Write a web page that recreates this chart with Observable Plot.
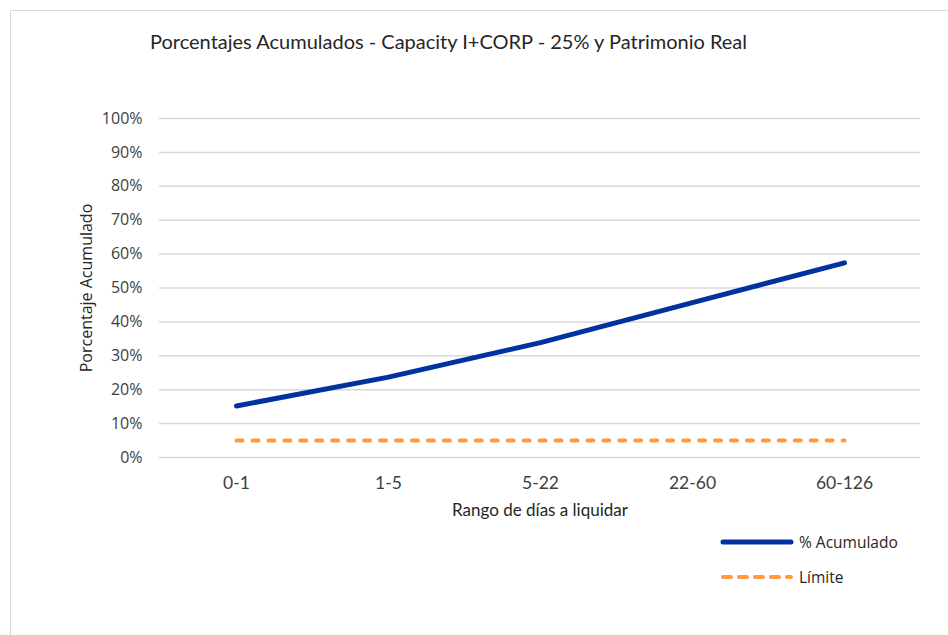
<!DOCTYPE html>
<html>
<head>
<meta charset="utf-8">
<script src="https://cdn.jsdelivr.net/npm/d3@7"></script>
<script src="https://cdn.jsdelivr.net/npm/@observablehq/plot@0.6"></script>
<style>
  html, body { margin: 0; padding: 0; background: #fff; }
  #wrap { position: relative; width: 948px; height: 635px; overflow: hidden; }
  #frame { position: absolute; left: 10px; top: 10px; width: 960px; height: 640px; border: 1px solid #d9d9d9; box-sizing: border-box; }
  #title { position: absolute; left: 150px; top: 29px; font-family: Lato, "Noto Sans", sans-serif; font-size: 20px; color: #262626; white-space: nowrap; }
  #chart { position: absolute; left: 0; top: 100px; }
  #legend { position: absolute; left: 720px; top: 530px; font-family: "Open Sans", "Noto Sans", sans-serif; font-size: 15.5px; color: #262626; }
  .item { display: flex; align-items: center; height: 24px; margin-bottom: 11px; }
  .item svg { margin-right: 5px; }
</style>
</head>
<body>
<div id="wrap">
  <div id="frame"></div>
  <div id="title">Porcentajes Acumulados - Capacity I+CORP - 25% y Patrimonio Real</div>
  <div id="chart"></div>
  <div id="legend"></div>
</div>
<script>
const categories = ["0-1", "1-5", "5-22", "22-60", "60-126"];
const acumulado = [15.2, 23.7, 33.9, 45.7, 57.4];
const limite = [5, 5, 5, 5, 5];
const yTicks = [0, 10, 20, 30, 40, 50, 60, 70, 80, 90, 100];
const seriesNames = ["% Acumulado", "Límite"];
const seriesColors = ["#0033a0", "#ff9a3c"];

const dataAc = categories.map((c, i) => ({cat: c, v: acumulado[i]}));
const dataLim = categories.map((c, i) => ({cat: c, v: limite[i]}));

const chart = Plot.plot({
  width: 948,
  height: 430,
  marginTop: 18,
  marginBottom: 73,
  marginLeft: 159,
  marginRight: 28,
  style: { fontFamily: "'Open Sans', 'Noto Sans', sans-serif", fontSize: "16px", color: "#404040", background: "transparent" },
  x: { type: "point", domain: categories, padding: 0.5 },
  y: { domain: [0, 100] },
  marks: [
    Plot.ruleY(yTicks, { stroke: "#d9d9d9", strokeWidth: 1.5 }),
    Plot.axisY(yTicks, { tickSize: 0, tickPadding: 17, tickFormat: d => d + "%", label: null, fontSize: 16 }),
    Plot.axisX({ tickSize: 0, tickPadding: 19, label: null, fontFamily: "Lato, 'Noto Sans', sans-serif", fontSize: 17.5 }),
    Plot.text(["Rango de días a liquidar"], { frameAnchor: "bottom", dy: 58, fontFamily: "Lato, 'Noto Sans', sans-serif", fontSize: 17, fill: "#262626" }),
    Plot.text(["Porcentaje Acumulado"], { frameAnchor: "left", dx: -73, rotate: -90, textAnchor: "middle", fontSize: 16, fill: "#262626" }),
    Plot.line(dataLim, { x: "cat", y: "v", stroke: seriesColors[1], strokeWidth: 4, strokeDasharray: "6,9.95", strokeLinecap: "round" }),
    Plot.line(dataAc, { x: "cat", y: "v", stroke: seriesColors[0], strokeWidth: 5, strokeLinecap: "round", strokeLinejoin: "round" })
  ]
});
document.getElementById("chart").appendChild(chart);

const legend = document.getElementById("legend");
seriesNames.forEach((name, i) => {
  const item = document.createElement("div");
  item.className = "item";
  const dash = i === 1 ? 'stroke-dasharray="8,8"' : "";
  item.innerHTML = `<svg width="74" height="10"><line x1="3" y1="5" x2="71" y2="5" stroke="${seriesColors[i]}" stroke-width="${i === 0 ? 5 : 4}" stroke-linecap="round" ${dash}/></svg><span>${name}</span>`;
  legend.appendChild(item);
});
</script>
</body>
</html>
